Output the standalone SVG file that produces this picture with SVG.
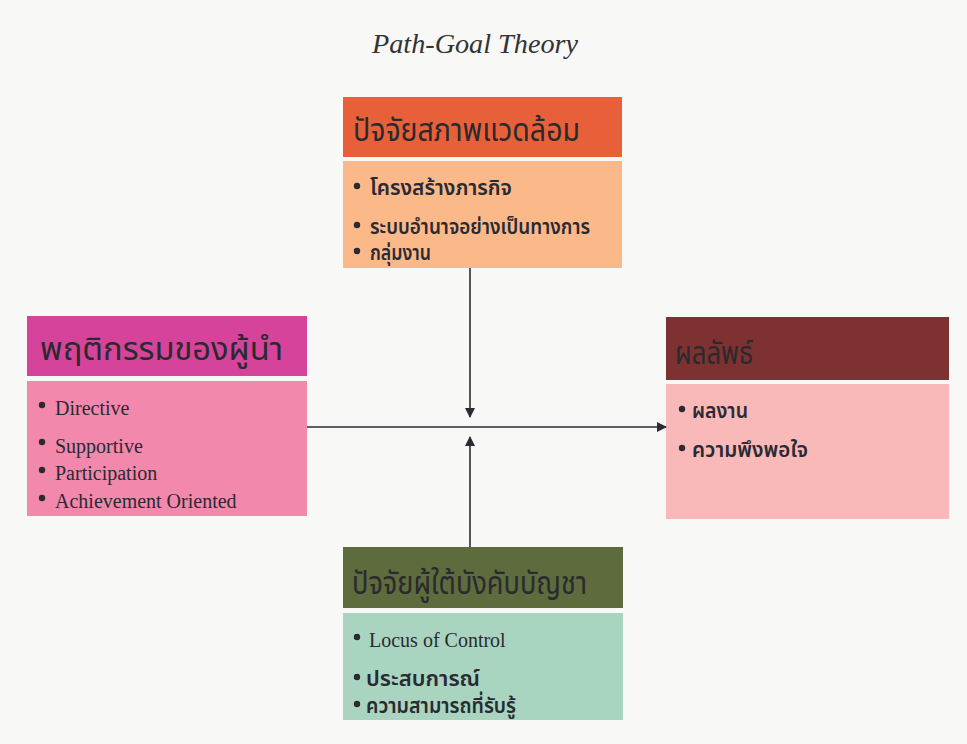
<svg xmlns="http://www.w3.org/2000/svg" width="967" height="744" viewBox="0 0 967 744">
<defs>
<marker id="ah" markerWidth="10" markerHeight="10" refX="9" refY="5" orient="auto" markerUnits="userSpaceOnUse">
<path d="M0,0 L10,5 L0,10 Z" fill="#2b2b33"/>
</marker>
<style>
.title{font-family:"Liberation Serif",serif;font-style:italic;font-size:27px;fill:#333;}
.hd{font-family:"Noto Sans Thai","Noto Sans",sans-serif;font-size:32px;fill:#2a2a2e;}
.th{font-family:"Noto Sans Thai","Noto Sans",sans-serif;font-size:21px;font-weight:600;fill:#2a2a33;}
.en{font-family:"Liberation Serif",serif;font-size:20px;fill:#2a2a33;}
.dot{fill:#2a2a33;}
.ln{stroke:#2b2b33;stroke-width:1.6;fill:none;}
</style>
</defs>
<rect width="967" height="744" fill="#f8f8f6"/>
<text class="title" x="372" y="53" textLength="206" lengthAdjust="spacingAndGlyphs">Path-Goal Theory</text>

<g id="env">
<rect x="343" y="97" width="279" height="60" fill="#e8603a"/>
<rect x="343" y="161" width="279" height="107" fill="#fbb98a"/>
<text class="hd" x="353" y="141" textLength="227" lengthAdjust="spacingAndGlyphs">ปัจจัยสภาพแวดล้อม</text>
<circle class="dot" cx="357" cy="186" r="3.2"/><text class="th" x="370" y="195" textLength="142" lengthAdjust="spacingAndGlyphs">โครงสร้างภารกิจ</text>
<circle class="dot" cx="357" cy="225" r="3.2"/><text class="th" x="370" y="234" textLength="220" lengthAdjust="spacingAndGlyphs">ระบบอำนาจอย่างเป็นทางการ</text>
<circle class="dot" cx="357" cy="251" r="3.2"/><text class="th" x="370" y="260" textLength="61" lengthAdjust="spacingAndGlyphs">กลุ่มงาน</text>
</g>

<g id="leader">
<rect x="27" y="316" width="280" height="60" fill="#d5449a"/>
<rect x="27" y="381" width="280" height="135" fill="#f288ab"/>
<text class="hd" x="40" y="360" textLength="243" lengthAdjust="spacingAndGlyphs">พฤติกรรมของผู้นำ</text>
<circle class="dot" cx="42" cy="405" r="3.2"/><text class="en" x="55" y="415">Directive</text>
<circle class="dot" cx="42" cy="442" r="3.2"/><text class="en" x="55" y="453">Supportive</text>
<circle class="dot" cx="42" cy="470" r="3.2"/><text class="en" x="55" y="480">Participation</text>
<circle class="dot" cx="42" cy="498" r="3.2"/><text class="en" x="55" y="508">Achievement Oriented</text>
</g>

<g id="outcome">
<rect x="666" y="317" width="283" height="63" fill="#7e3131"/>
<rect x="666" y="384" width="283" height="135" fill="#f9b9b9"/>
<text class="hd" x="675" y="364" textLength="78" lengthAdjust="spacingAndGlyphs">ผลลัพธ์</text>
<circle class="dot" cx="682" cy="409" r="3.2"/><text class="th" x="692" y="418" textLength="56" lengthAdjust="spacingAndGlyphs">ผลงาน</text>
<circle class="dot" cx="682" cy="448" r="3.2"/><text class="th" x="692" y="457" textLength="116" lengthAdjust="spacingAndGlyphs">ความพึงพอใจ</text>
</g>

<g id="follower">
<rect x="343" y="547" width="280" height="61" fill="#5d6b3d"/>
<rect x="343" y="613" width="280" height="107" fill="#a8d4c0"/>
<text class="hd" x="352" y="594" textLength="235" lengthAdjust="spacingAndGlyphs">ปัจจัยผู้ใต้บังคับบัญชา</text>
<circle class="dot" cx="357" cy="637" r="3.2"/><text class="en" x="369" y="647">Locus of Control</text>
<circle class="dot" cx="357" cy="677" r="3.2"/><text class="th" x="366" y="686" textLength="114" lengthAdjust="spacingAndGlyphs">ประสบการณ์</text>
<circle class="dot" cx="357" cy="704" r="3.2"/><text class="th" x="366" y="713" textLength="150" lengthAdjust="spacingAndGlyphs">ความสามารถที่รับรู้</text>
</g>

<g id="connectors">
<line class="ln" x1="470" y1="268" x2="470" y2="417" marker-end="url(#ah)"/>
<line class="ln" x1="470" y1="547" x2="470" y2="437" marker-end="url(#ah)"/>
<line class="ln" x1="307" y1="427" x2="666" y2="427" marker-end="url(#ah)"/>
</g>
</svg>
